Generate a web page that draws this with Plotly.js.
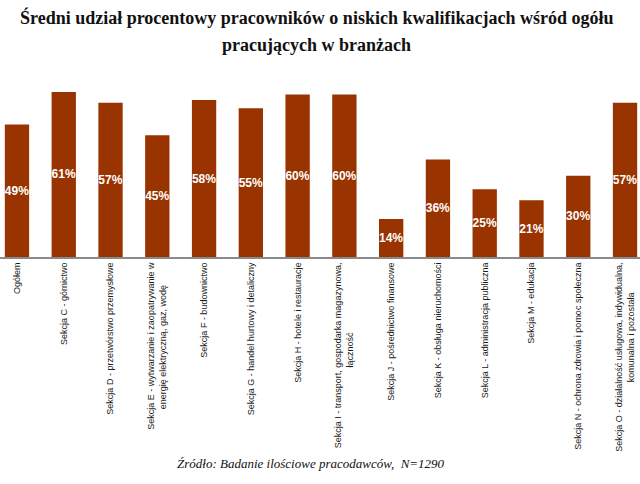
<!DOCTYPE html>
<html>
<head>
<meta charset="utf-8">
<script src="https://cdn.plot.ly/plotly-3.0.1.min.js"></script>
<style>
html,body{margin:0;padding:0;background:#fff;}
#chart{width:640px;height:484px;}
</style>
</head>
<body>
<div id="chart"></div>
<script>
const categories = [
  "Ogółem",
  "Sekcja C - górnictwo",
  "Sekcja D - przetwórstwo przemysłowe",
  "Sekcja E - wytwarzanie i zaopatrywanie w<br>energię elektryczną, gaz, wodę\u00a0\u00a0\u00a0\u00a0\u00a0\u00a0\u00a0\u00a0\u00a0",
  "Sekcja F - budownictwo",
  "Sekcja G - handel hurtowy i detaliczny",
  "Sekcja H - hotele i restauracje",
  "Sekcja I - transport, gospodarka magazynowa,<br>łączność\u00a0\u00a0\u00a0\u00a0\u00a0\u00a0\u00a0\u00a0\u00a0\u00a0\u00a0\u00a0\u00a0\u00a0\u00a0\u00a0\u00a0\u00a0\u00a0\u00a0\u00a0\u00a0\u00a0\u00a0\u00a0\u00a0\u00a0\u00a0",
  "Sekcja J - pośrednictwo finansowe",
  "Sekcja K - obsługa nieruchomości",
  "Sekcja L - administracja publiczna",
  "Sekcja M - edukacja",
  "Sekcja N - ochrona zdrowia i pomoc społeczna",
  "Sekcja O - działalność usługowa, indywidualna,<br>komunalna i pozostała\u00a0\u00a0\u00a0\u00a0\u00a0\u00a0\u00a0\u00a0\u00a0\u00a0\u00a0\u00a0"
];
const values = [49, 61, 57, 45, 58, 55, 60, 60, 14, 36, 25, 21, 30, 57];
const valueLabels = values.map(v => v + "%");
const titleLine1 = "Średni udział procentowy pracowników o niskich kwalifikacjach wśród ogółu";
const titleLine2 = "pracujących w branżach";
const sourceText = "Źródło: Badanie ilościowe pracodawców,  N=1290";

const trace = {
  type: "bar",
  x: categories.map((c, i) => i),
  y: values,
  text: valueLabels,
  textposition: "inside",
  insidetextanchor: "middle",
  constraintext: "none",
  textangle: 0,
  textfont: {family: "Liberation Sans, Arial, sans-serif", size: 12, color: "#ffffff", weight: "bold"},
  marker: {color: "#993300", line: {width: 0}},
  width: 0.52,
  hoverinfo: "none",
  cliponaxis: false
};

const layout = {
  width: 640, height: 484,
  margin: {l: 0, r: 0, t: 80, b: 227, pad: 0},
  paper_bgcolor: "#ffffff",
  plot_bgcolor: "#ffffff",
  showlegend: false,
  xaxis: {
    range: [-0.363, 13.32],
    tickmode: "array",
    tickvals: categories.map((c, i) => i),
    ticktext: categories,
    tickangle: -90,
    tickfont: {family: "Liberation Sans, Arial, sans-serif", size: 9, color: "#1a1a1a"},
    showline: true, linecolor: "#8a8a8a", linewidth: 2,
    showgrid: false, zeroline: false, ticks: "", automargin: false, fixedrange: true
  },
  yaxis: {
    range: [0, 65.4],
    visible: false, showgrid: false, zeroline: false, fixedrange: true
  },
  annotations: [
    {text: titleLine1, xref: "paper", yref: "paper", x: 0.495, y: (257 - 17) / 177,
     xanchor: "center", yanchor: "middle", showarrow: false,
     font: {family: "Liberation Serif, Times New Roman, serif", size: 18, color: "#111111", weight: "bold"}},
    {text: titleLine2, xref: "paper", yref: "paper", x: 0.495, y: (257 - 45) / 177,
     xanchor: "center", yanchor: "middle", showarrow: false,
     font: {family: "Liberation Serif, Times New Roman, serif", size: 18, color: "#111111", weight: "bold"}},
    {text: "<i>" + sourceText + "</i>", xref: "paper", yref: "paper", x: 0.486, y: (257 - 463) / 177,
     xanchor: "center", yanchor: "middle", showarrow: false,
     font: {family: "Liberation Serif, Times New Roman, serif", size: 13, color: "#111111"}}
  ]
};

Plotly.newPlot("chart", [trace], layout, {staticPlot: true, displayModeBar: false});
</script>
</body>
</html>
